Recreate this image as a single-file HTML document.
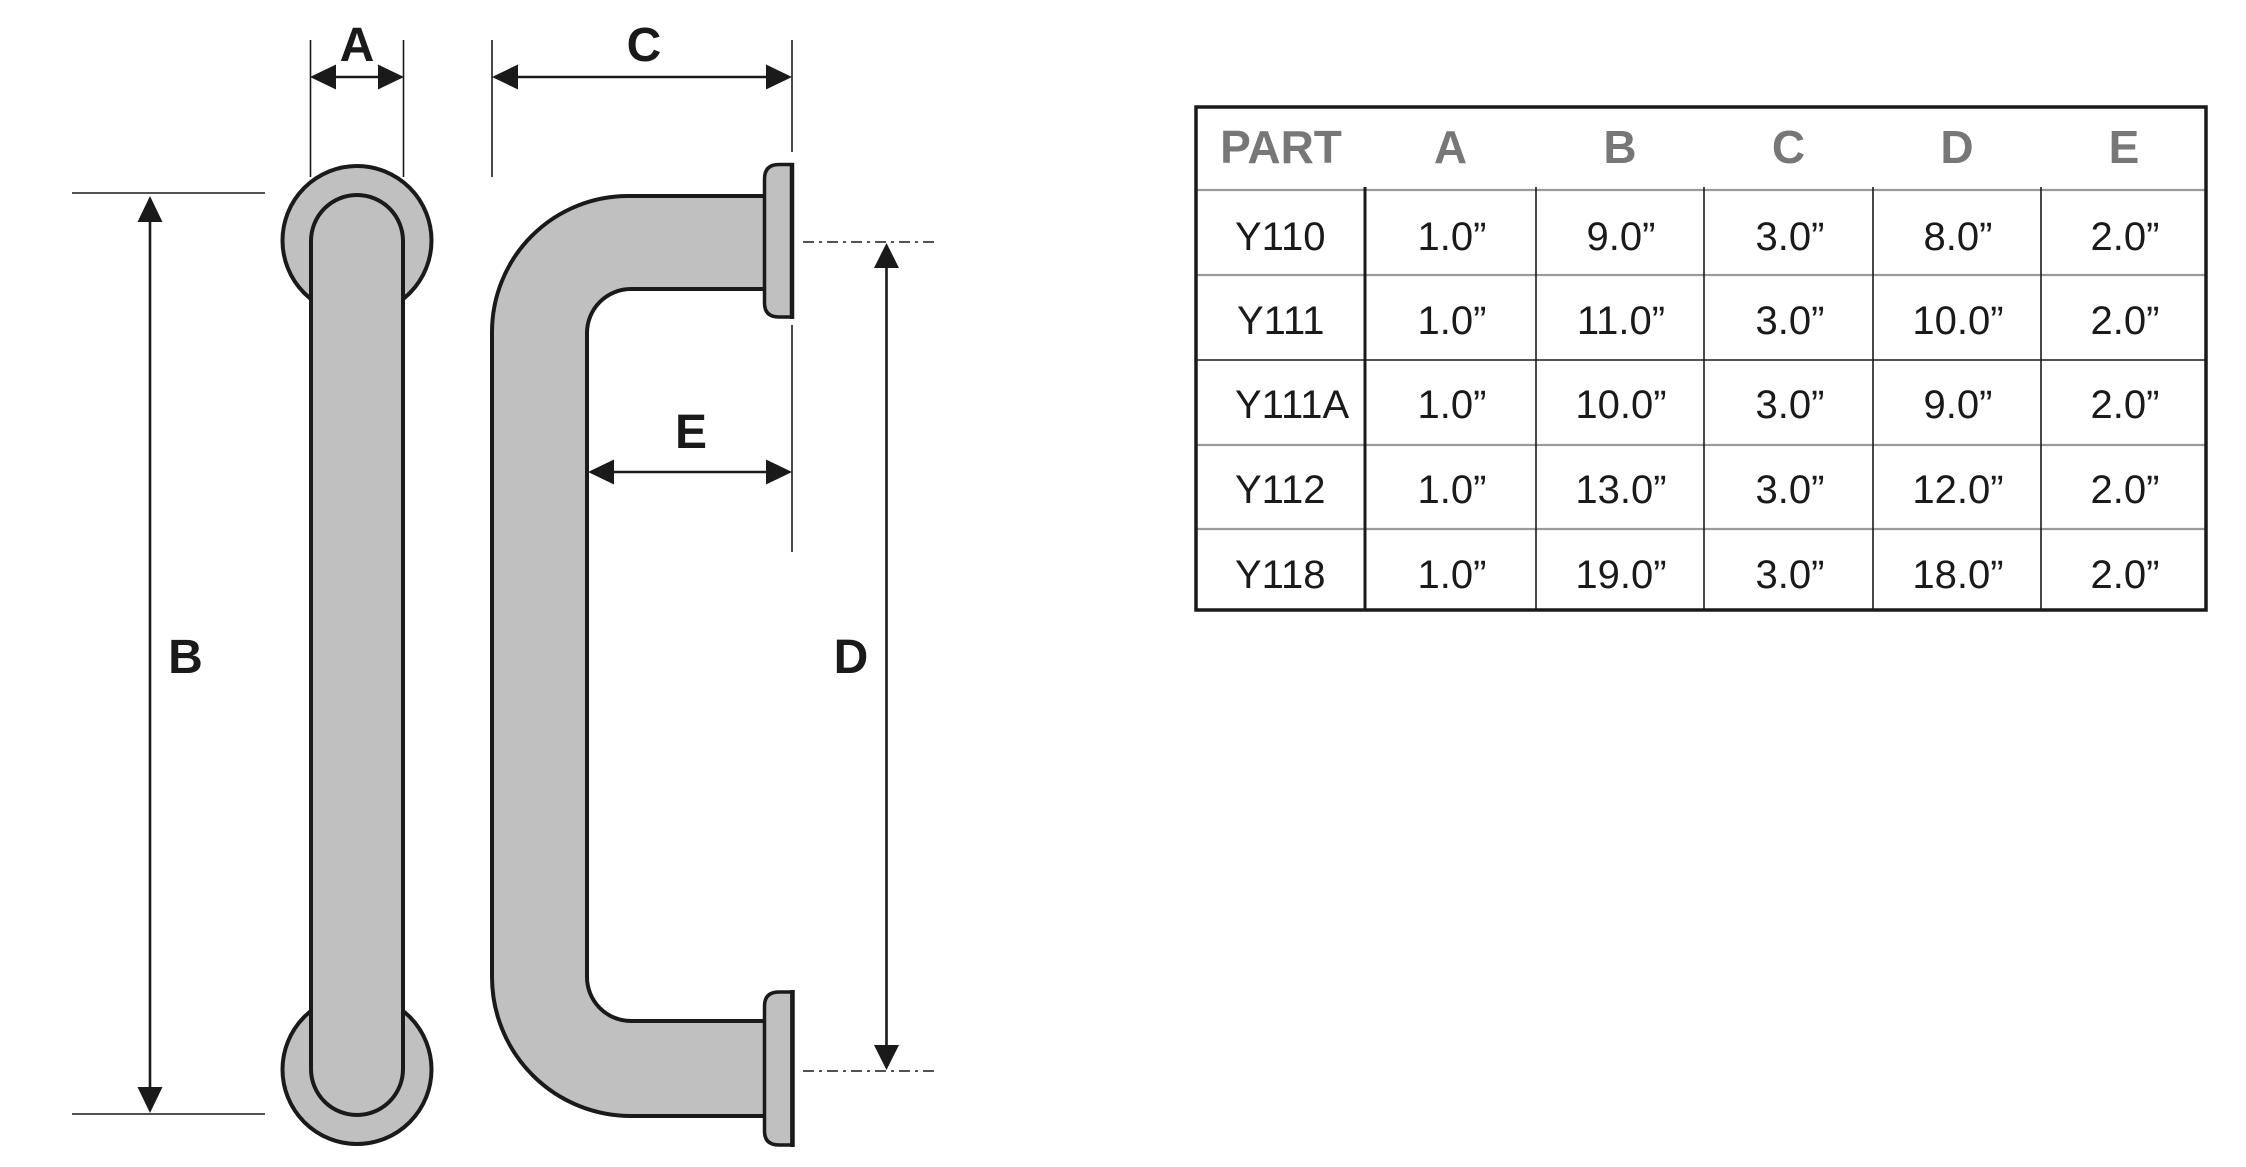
<!DOCTYPE html>
<html>
<head>
<meta charset="utf-8">
<style>
html,body{margin:0;padding:0;background:#fff;}
svg{display:block;}
</style>
</head>
<body>
<svg width="2246" height="1167" viewBox="0 0 2246 1167" xmlns="http://www.w3.org/2000/svg">
<rect width="2246" height="1167" fill="#fff"/>

<!-- straight bar rosettes -->
<circle cx="357" cy="240.5" r="74.5" fill="#c0c0c0" stroke="#1a1a1a" stroke-width="4"/>
<circle cx="357" cy="1069.5" r="74.5" fill="#c0c0c0" stroke="#1a1a1a" stroke-width="4"/>
<!-- straight bar -->
<rect x="311" y="195" width="92" height="920" rx="46" ry="46" fill="#c0c0c0" stroke="#1a1a1a" stroke-width="4"/>

<!-- C-shaped bar -->
<path d="M 770 196 H 628 A 136 136 0 0 0 492 332 V 977 A 139 139 0 0 0 631 1116 H 770 V 1021 H 631 A 44 44 0 0 1 587 977 V 333 A 44 44 0 0 1 631 289 H 770 Z" fill="#c0c0c0" stroke="#1a1a1a" stroke-width="4"/>
<!-- flanges -->
<path d="M 792 164.5 H 779 Q 764.5 164.5 764.5 179 V 303 Q 764.5 317 779 317 H 792 Z" fill="#c0c0c0" stroke="#1a1a1a" stroke-width="3.5"/>
<line x1="792" y1="163" x2="792" y2="319" stroke="#1a1a1a" stroke-width="4.5"/>
<path d="M 792 992 H 779 Q 764.5 992 764.5 1006 V 1131 Q 764.5 1145 779 1145 H 792 Z" fill="#c0c0c0" stroke="#1a1a1a" stroke-width="3.5"/>
<line x1="792.5" y1="990" x2="792.5" y2="1147" stroke="#1a1a1a" stroke-width="4.5"/>

<!-- extension lines -->
<g stroke="#1a1a1a" stroke-width="1.6" fill="none">
  <line x1="310.5" y1="40" x2="310.5" y2="177"/>
  <line x1="403.5" y1="40" x2="403.5" y2="177"/>
  <line x1="492" y1="40" x2="492" y2="177"/>
  <line x1="792" y1="40" x2="792" y2="152"/>
  <line x1="792" y1="325" x2="792" y2="552"/>
  <line x1="72" y1="193" x2="265" y2="193"/>
  <line x1="72" y1="1114" x2="265" y2="1114"/>
</g>
<g stroke="#1a1a1a" stroke-width="1.6" fill="none" stroke-dasharray="11 5 3 5">
  <line x1="803" y1="242" x2="935" y2="242"/>
  <line x1="803" y1="1071" x2="935" y2="1071"/>
</g>

<!-- dimension lines -->
<g stroke="#1a1a1a" stroke-width="2.6" fill="none">
  <line x1="330" y1="77" x2="384" y2="77"/>
  <line x1="510" y1="77" x2="774" y2="77"/>
  <line x1="606" y1="472" x2="774" y2="472"/>
  <line x1="150" y1="212" x2="150" y2="1095"/>
  <line x1="886.5" y1="260" x2="886.5" y2="1053"/>
</g>
<g fill="#1a1a1a">
  <polygon points="310,77 336,64.5 336,89.5"/>
  <polygon points="404,77 378,64.5 378,89.5"/>
  <polygon points="492,77 518,64.5 518,89.5"/>
  <polygon points="792,77 766,64.5 766,89.5"/>
  <polygon points="588,472 614,459.5 614,484.5"/>
  <polygon points="792,472 766,459.5 766,484.5"/>
  <polygon points="150,196 137.5,222 162.5,222"/>
  <polygon points="150,1113 137.5,1087 162.5,1087"/>
  <polygon points="886.5,243 874,268 899,268"/>
  <polygon points="886.5,1070 874,1045 899,1045"/>
</g>

<!-- dimension labels -->
<g font-family="'Liberation Sans', Arial, sans-serif" font-weight="bold" font-size="48" fill="#1a1a1a" text-anchor="middle">
  <text x="357" y="61">A</text>
  <text x="644" y="61">C</text>
  <text x="691" y="448">E</text>
  <text x="185.5" y="673">B</text>
  <text x="851" y="673">D</text>
</g>

<!-- table -->
<g>
  <!-- row lines -->
  <g stroke="#9a9a9a" stroke-width="2.2">
    <line x1="1195" y1="190" x2="2207" y2="190"/>
    <line x1="1195" y1="275" x2="2207" y2="275"/>
    <line x1="1195" y1="445" x2="2207" y2="445"/>
    <line x1="1195" y1="529" x2="2207" y2="529"/>
  </g>
  <line x1="1195" y1="360" x2="2207" y2="360" stroke="#1a1a1a" stroke-width="1.6"/>
  <!-- column lines -->
  <line x1="1365" y1="187" x2="1365" y2="611" stroke="#1a1a1a" stroke-width="3"/>
  <g stroke="#1a1a1a" stroke-width="1.6">
    <line x1="1536" y1="187" x2="1536" y2="611"/>
    <line x1="1704" y1="187" x2="1704" y2="611"/>
    <line x1="1873" y1="187" x2="1873" y2="611"/>
    <line x1="2041" y1="187" x2="2041" y2="611"/>
  </g>
  <!-- border -->
  <rect x="1196" y="107" width="1010" height="503" fill="none" stroke="#1a1a1a" stroke-width="3.5"/>

  <!-- header -->
  <g font-family="'Liberation Sans', Arial, sans-serif" font-weight="bold" font-size="46" fill="#777777" text-anchor="middle">
    <text x="1281" y="163">PART</text>
    <text x="1450.5" y="163">A</text>
    <text x="1620" y="163">B</text>
    <text x="1788.5" y="163">C</text>
    <text x="1957" y="163">D</text>
    <text x="2124" y="163">E</text>
  </g>

  <!-- part names -->
  <g font-family="'Liberation Sans', Arial, sans-serif" font-size="40" fill="#1a1a1a">
    <text x="1235" y="250">Y110</text>
    <text x="1237" y="334">Y111</text>
    <text x="1235" y="418">Y111A</text>
    <text x="1235" y="503">Y112</text>
    <text x="1235" y="588">Y118</text>
  </g>

  <g font-family="'Liberation Sans', Arial, sans-serif" font-size="40" fill="#1a1a1a" text-anchor="middle">
    <text x="1452" y="250">1.0”</text>
    <text x="1621" y="250">9.0”</text>
    <text x="1790" y="250">3.0”</text>
    <text x="1958" y="250">8.0”</text>
    <text x="2125" y="250">2.0”</text>

    <text x="1452" y="334">1.0”</text>
    <text x="1621" y="334">11.0”</text>
    <text x="1790" y="334">3.0”</text>
    <text x="1958" y="334">10.0”</text>
    <text x="2125" y="334">2.0”</text>

    <text x="1452" y="418">1.0”</text>
    <text x="1621" y="418">10.0”</text>
    <text x="1790" y="418">3.0”</text>
    <text x="1958" y="418">9.0”</text>
    <text x="2125" y="418">2.0”</text>

    <text x="1452" y="503">1.0”</text>
    <text x="1621" y="503">13.0”</text>
    <text x="1790" y="503">3.0”</text>
    <text x="1958" y="503">12.0”</text>
    <text x="2125" y="503">2.0”</text>

    <text x="1452" y="588">1.0”</text>
    <text x="1621" y="588">19.0”</text>
    <text x="1790" y="588">3.0”</text>
    <text x="1958" y="588">18.0”</text>
    <text x="2125" y="588">2.0”</text>
  </g>
</g>
</svg>
</body>
</html>
